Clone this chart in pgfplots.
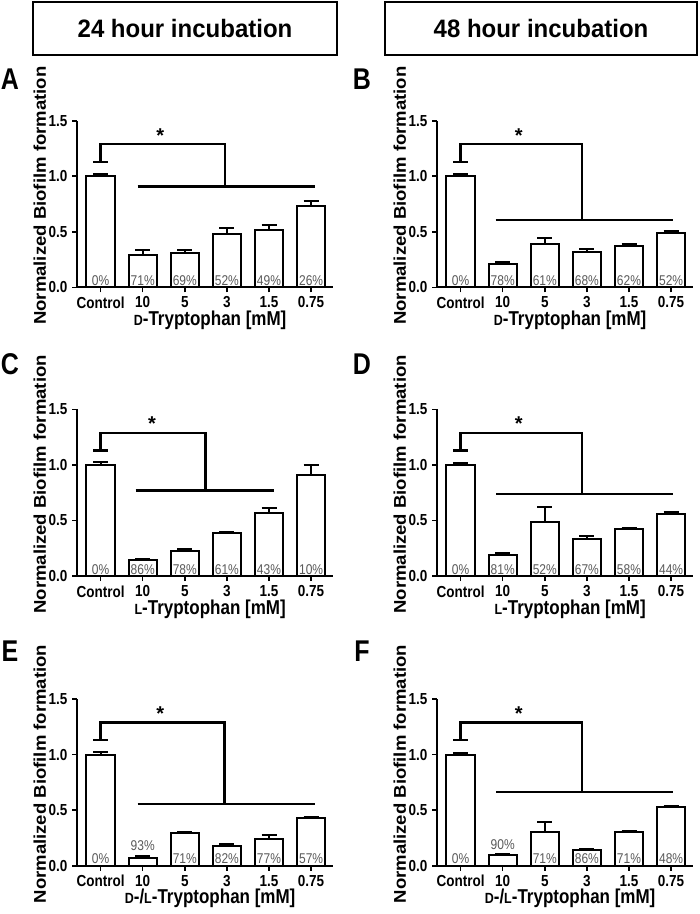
\documentclass[border=0pt]{standalone}
\usepackage{fontspec}
\setmainfont{Liberation Sans}
\usepackage{graphicx}
\usepackage{pgfplots}
\pgfplotsset{compat=1.18}
\definecolor{pctgray}{RGB}{90,90,90}
\newcommand{\vs}[1]{\scalebox{1}[1.18]{#1}}
\newcommand{\sD}{{\fontsize{12.5}{12.5}\selectfont D}}
\newcommand{\sL}{{\fontsize{12.5}{12.5}\selectfont L}}
\pgfplotsset{
 panel/.style={
  scale only axis, width=256pt, height=166.6pt, anchor=south west,
  xmin=-0.56, xmax=5.52, ymin=0, ymax=1.5,
  axis x line=bottom, axis y line=left,
  axis line style={line width=2pt,-},
  tick align=outside, major tick length=5pt,
  every tick/.style={black, line width=1.6pt},
  ytick={0,0.5,1,1.5}, yticklabels={\vs{0.0},\vs{0.5},\vs{1.0},\vs{1.5}},
  xtick={0,1,2,3,4,5}, xticklabels={\vs{Control},\vs{10},\vs{5},\vs{3},\vs{1.5},\vs{0.75}},
  ticklabel style={font=\fontsize{13.5}{14}\selectfont\bfseries},
  yticklabel style={xshift=-1pt},
  xticklabel style={yshift=-1pt},
  clip=false,
  ylabel={\scalebox{1.09}[1]{Normalized Biofilm formation}},
  ylabel style={at={(axis description cs:-0.145,0.55)}, anchor=center, font=\fontsize{17}{17}\selectfont\bfseries},
  xlabel style={at={(axis description cs:0.52,0)}, yshift=-33pt, anchor=center, font=\fontsize{17}{17}\selectfont\bfseries},
 },
 mybar/.style={ybar, bar width=0.67, fill=white, draw=black, line width=2pt,
   error bars/.cd, y dir=plus, y explicit,
   error bar style={line width=2pt, black},
   error mark options={rotate=90, mark size=7.5pt, line width=2pt, black}},
}
\tikzset{
 pct/.style={anchor=base, yshift=2pt, inner sep=0pt, font=\fontsize{12}{12}\selectfont, text=pctgray},
 star/.style={font=\fontsize{20}{20}\selectfont\bfseries, inner sep=0pt},
 brk/.style={line width=2.3pt, black},
 letter/.style={font=\fontsize{25}{25}\selectfont\bfseries},
}
\newcommand{\pcts}[6]{%
  \node[pct] at (axis cs:0,0) {\vs{#1\%}};
  \node[pct] at (axis cs:1,0) {\vs{#2\%}};
  \node[pct] at (axis cs:2,0) {\vs{#3\%}};
  \node[pct] at (axis cs:3,0) {\vs{#4\%}};
  \node[pct] at (axis cs:4,0) {\vs{#5\%}};
  \node[pct] at (axis cs:5,0) {\vs{#6\%}};}
% #1 x of bracket corner, #2 y of lower line, #3 lower start, #4 lower end, #5 star x
\newcommand{\bracket}[5]{%
  \draw[brk] (axis cs:-0.17,1.13) -- (axis cs:0.17,1.13);
  \draw[brk] (axis cs:0,1.13) -- (axis cs:0,1.29) -- (axis cs:#1,1.29) -- (axis cs:#1,#2);
  \draw[brk] (axis cs:#3,#2) -- (axis cs:#4,#2);
  \node[star] at (axis cs:#5,1.37) {*};}
\begin{document}
\begin{tikzpicture}
\useasboundingbox (0pt,0pt) rectangle (700pt,-914pt);
\fill[white] (0pt,0pt) rectangle (700pt,-914pt);
% title boxes
\draw[line width=2pt] (33pt,-2pt) rectangle (337pt,-55pt);
\node[font=\fontsize{24}{24}\selectfont\bfseries] at (185pt,-28.5pt) {\scalebox{1}[1.05]{24 hour incubation}};
\draw[line width=2pt] (385pt,-2pt) rectangle (696.5pt,-55pt);
\node[font=\fontsize{24}{24}\selectfont\bfseries] at (541pt,-28.5pt) {\scalebox{1}[1.05]{48 hour incubation}};
% panel letters
\node[letter] at (10pt,-79pt) {\scalebox{1}[1.2]{A}};
\node[letter] at (362pt,-79pt) {\scalebox{1}[1.2]{B}};
\node[letter] at (10pt,-364pt) {\scalebox{1}[1.2]{C}};
\node[letter] at (362pt,-364pt) {\scalebox{1}[1.2]{D}};
\node[letter] at (10pt,-651pt) {\scalebox{1}[1.2]{E}};
\node[letter] at (362pt,-651pt) {\scalebox{1}[1.2]{F}};

% A
\begin{axis}[panel, at={(77pt,-287.3pt)}, xlabel={\vs{\sD-Tryptophan [mM]}}]
\addplot[mybar] coordinates {(0,1.0)+-(0,0.02) (1,0.288)+-(0,0.048) (2,0.312)+-(0,0.024) (3,0.477)+-(0,0.057) (4,0.517)+-(0,0.042) (5,0.733)+-(0,0.045)};
\pcts{0}{71}{69}{52}{49}{26}
\bracket{2.95}{0.907}{0.88}{5.1}{1.42}
\end{axis}
% B
\begin{axis}[panel, at={(437pt,-287.3pt)}, xlabel={\vs{\sD-Tryptophan [mM]}}]
\addplot[mybar] coordinates {(0,1.0)+-(0,0.02) (1,0.21)+-(0,0.02) (2,0.387)+-(0,0.06) (3,0.318)+-(0,0.03) (4,0.375)+-(0,0.018) (5,0.486)+-(0,0.024)};
\pcts{0}{78}{61}{68}{62}{52}
\bracket{2.89}{0.607}{0.83}{5.04}{1.38}
\end{axis}
% C
\begin{axis}[panel, at={(77pt,-576pt)}, xlabel={\vs{\sL-Tryptophan [mM]}}]
\addplot[mybar] coordinates {(0,1.0)+-(0,0.025) (1,0.14)+-(0,0.01) (2,0.227)+-(0,0.018) (3,0.388)+-(0,0.01) (4,0.57)+-(0,0.04) (5,0.91)+-(0,0.09)};
\pcts{0}{86}{78}{61}{43}{10}
\bracket{2.49}{0.77}{0.83}{4.11}{1.22}
\end{axis}
% D
\begin{axis}[panel, at={(437pt,-576pt)}, xlabel={\vs{\sL-Tryptophan [mM]}}]
\addplot[mybar] coordinates {(0,1.0)+-(0,0.015) (1,0.193)+-(0,0.018) (2,0.488)+-(0,0.134) (3,0.33)+-(0,0.033) (4,0.42)+-(0,0.015) (5,0.56)+-(0,0.018)};
\pcts{0}{81}{52}{67}{58}{44}
\bracket{2.89}{0.74}{0.85}{5.04}{1.38}
\end{axis}
% E
\begin{axis}[panel, at={(77pt,-865.7pt)}, xlabel={\vs{\sD-/\sL-Tryptophan [mM]}}]
\addplot[mybar] coordinates {(0,1.0)+-(0,0.02) (1,0.072)+-(0,0.012) (2,0.294)+-(0,0.01) (3,0.18)+-(0,0.018) (4,0.243)+-(0,0.033) (5,0.429)+-(0,0.012)};
\node[pct] at (axis cs:0,0) {\vs{0\%}};
\node[pct, yshift=0pt] at (axis cs:1,0.115) {\vs{93\%}};
\node[pct] at (axis cs:2,0) {\vs{71\%}};
\node[pct] at (axis cs:3,0) {\vs{82\%}};
\node[pct] at (axis cs:4,0) {\vs{77\%}};
\node[pct] at (axis cs:5,0) {\vs{57\%}};
\bracket{2.94}{0.555}{0.88}{5.1}{1.42}
\end{axis}
% F
\begin{axis}[panel, at={(437pt,-865.7pt)}, xlabel={\vs{\sD-/\sL-Tryptophan [mM]}}]
\addplot[mybar] coordinates {(0,1.0)+-(0,0.015) (1,0.093)+-(0,0.012) (2,0.303)+-(0,0.09) (3,0.138)+-(0,0.012) (4,0.3)+-(0,0.009) (5,0.528)+-(0,0.009)};
\node[pct] at (axis cs:0,0) {\vs{0\%}};
\node[pct, yshift=0pt] at (axis cs:1,0.125) {\vs{90\%}};
\node[pct] at (axis cs:2,0) {\vs{71\%}};
\node[pct] at (axis cs:3,0) {\vs{86\%}};
\node[pct] at (axis cs:4,0) {\vs{71\%}};
\node[pct] at (axis cs:5,0) {\vs{48\%}};
\bracket{2.89}{0.663}{0.85}{5.04}{1.38}
\end{axis}
\end{tikzpicture}
\end{document}
